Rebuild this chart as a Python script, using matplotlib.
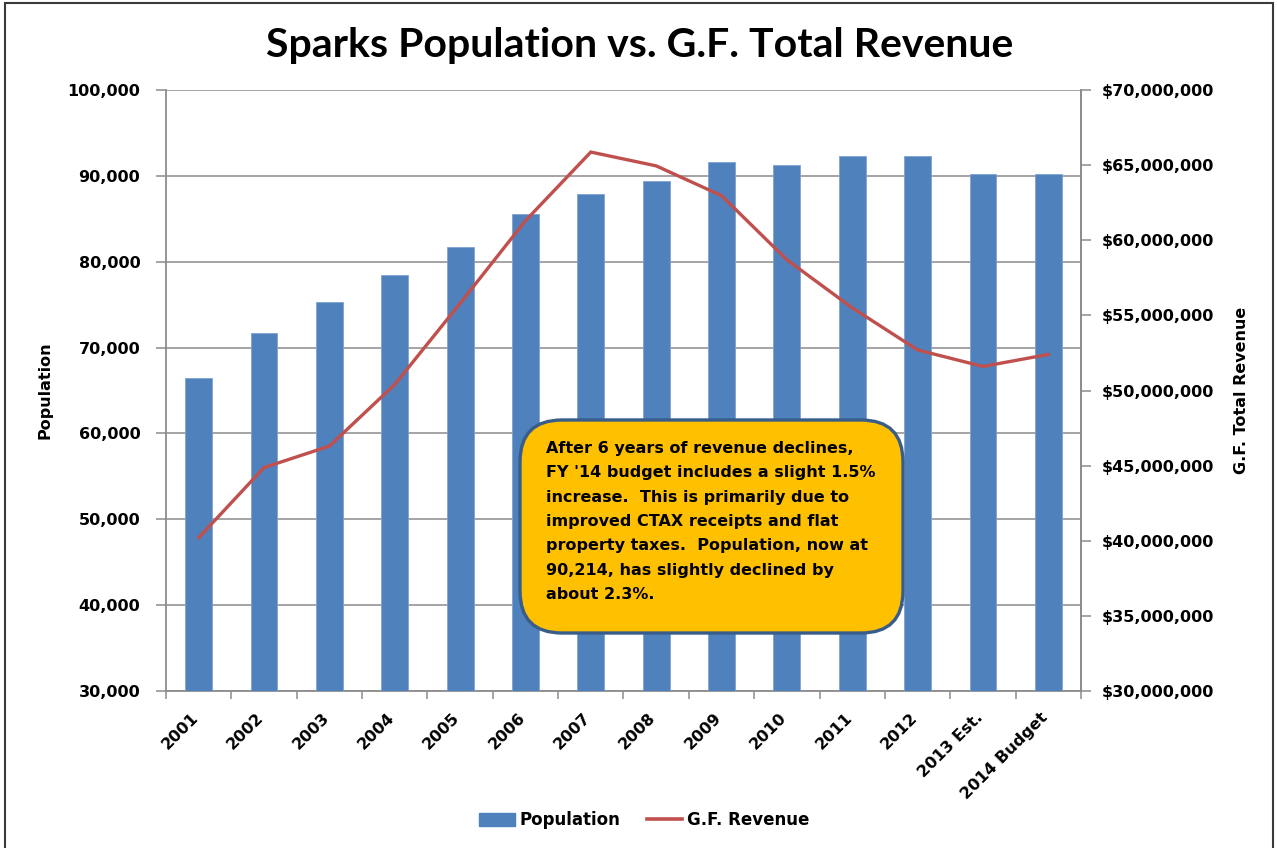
import matplotlib
matplotlib.use("Agg")
import matplotlib.pyplot as plt
import matplotlib.transforms as mtransforms
from matplotlib.patches import FancyBboxPatch, Rectangle
from matplotlib.ticker import FuncFormatter, MultipleLocator, FixedLocator
from matplotlib.lines import Line2D
from matplotlib.patches import Patch

categories = ["2001", "2002", "2003", "2004", "2005", "2006", "2007", "2008",
              "2009", "2010", "2011", "2012", "2013 Est.", "2014 Budget"]
population = [66430, 71730, 75280, 78460, 81680, 85600, 87850, 89420,
              91630, 91260, 92280, 92280, 90200, 90214]
revenue = [40.2e6, 44.87e6, 46.3e6, 50.4e6, 55.8e6, 61.3e6, 65.87e6, 64.95e6,
           62.97e6, 58.7e6, 55.5e6, 52.7e6, 51.6e6, 52.4e6]

title = "Sparks Population vs. G.F. Total Revenue"
note = ("After 6 years of revenue declines,\n"
        "FY '14 budget includes a slight 1.5%\n"
        "increase.  This is primarily due to\n"
        "improved CTAX receipts and flat\n"
        "property taxes.  Population, now at\n"
        "90,214, has slightly declined by\n"
        "about 2.3%.")

BAR = "#4F81BD"
LINE = "#C0504D"
GRID = "#8C8C8C"
FONT = "DejaVu Sans"

W, H = 1277, 848
fig = plt.figure(figsize=(W / 100, H / 100), dpi=100)

# outer chart border
fig.patches.append(Rectangle((5 / W, -0.01), 1268 / W, (H - 3) / H + 0.01,
                             transform=fig.transFigure, fill=False,
                             ec="#3A3A3A", lw=1.5))

left, right, top, bottom = 166, 1081, 90, 691
ax = fig.add_axes([left / W, 1 - bottom / H, (right - left) / W, (bottom - top) / H])
x = list(range(len(categories)))

ax.bar(x, population, width=0.41, color=BAR, edgecolor="#7FA3D0", linewidth=0.6, zorder=3)
ax.set_xlim(-0.5, len(categories) - 0.5)
ax.set_ylim(30000, 100000)
ax.yaxis.set_major_locator(MultipleLocator(10000))
ax.yaxis.set_major_formatter(FuncFormatter(lambda v, p: f"{int(v):,}"))
ax.grid(axis="y", color=GRID, lw=1.1, zorder=0)
ax.set_axisbelow(True)

ax.set_xticks(x)
ax.set_xticklabels(categories, rotation=45, ha="right", rotation_mode="anchor",
                   fontsize=11.5, fontweight="bold", family=FONT)
ax.tick_params(axis="x", which="major", length=0, pad=10)
offset = mtransforms.ScaledTranslation(-8 / 100, -5 / 100, fig.dpi_scale_trans)
for lab in ax.get_xticklabels():
    lab.set_transform(lab.get_transform() + offset)
ax.xaxis.set_minor_locator(FixedLocator([i - 0.5 for i in range(len(categories) + 1)]))
ax.tick_params(axis="x", which="minor", length=6, color=GRID, width=1.1)
ax.tick_params(axis="y", length=7, color=GRID, width=1.1, labelsize=11.5, pad=11.5)
for lab in ax.get_yticklabels():
    lab.set_fontweight("bold")
    lab.set_family(FONT)

ax.spines["top"].set_visible(False)
for s in ["left", "bottom", "right"]:
    ax.spines[s].set_color(GRID)
    ax.spines[s].set_linewidth(1.3)

ax2 = ax.twinx()
ax2.plot(x, revenue, color=LINE, lw=2.4, zorder=4, solid_joinstyle="miter")
ax2.set_ylim(30e6, 70e6)
ax2.yaxis.set_major_locator(MultipleLocator(5e6))
ax2.yaxis.set_major_formatter(FuncFormatter(lambda v, p: f"${int(v):,}"))
ax2.tick_params(axis="y", length=7, color=GRID, width=1.1, labelsize=11.5, pad=7.7)
for lab in ax2.get_yticklabels():
    lab.set_fontweight("bold")
    lab.set_family(FONT)
for s in ["top", "left", "bottom"]:
    ax2.spines[s].set_visible(False)
ax2.spines["right"].set_color(GRID)
ax2.spines["right"].set_linewidth(1.3)

# title
fig.text(640 / W, 1 - 46 / H, title, ha="center", va="center",
         fontsize=29.5, fontweight="bold", family="Lato")

# axis labels
fig.text(45 / W, 1 - 390 / H, "Population", rotation=90, ha="center", va="center",
         fontsize=11.5, fontweight="bold", family=FONT)
fig.text(1241 / W, 1 - 390 / H, "G.F. Total Revenue", rotation=90, ha="center", va="center",
         fontsize=11.5, fontweight="bold", family=FONT)

# annotation box (inches, uniform scale)
tr = fig.dpi_scale_trans
bx0, bx1, by_top, by_bot = 520, 903, 420, 633
box = FancyBboxPatch((bx0 / 100, (H - by_bot) / 100), (bx1 - bx0) / 100, (by_bot - by_top) / 100,
                     boxstyle="round,pad=0,rounding_size=0.42", transform=tr,
                     fc="#FFC000", ec="#385D8A", lw=2.4, zorder=10)
fig.patches.append(box)
fig.text(546 / 100, (H - 441) / 100, note, transform=tr, ha="left", va="top",
         fontsize=11.5, fontweight="bold", family=FONT, linespacing=1.78, zorder=11)

# legend
handles = [Patch(facecolor=BAR, edgecolor=BAR),
           Line2D([0], [0], color=LINE, lw=2.6)]
leg = fig.legend(handles, ["Population", "G.F. Revenue"], loc="center",
                 bbox_to_anchor=(644 / W, 1 - 820 / H), ncol=2, frameon=False,
                 prop={"family": FONT, "weight": "bold", "size": 12},
                 handlelength=2.15, handleheight=0.8, handletextpad=0.25, columnspacing=1.6)

fig.savefig("out.png", dpi=100)
